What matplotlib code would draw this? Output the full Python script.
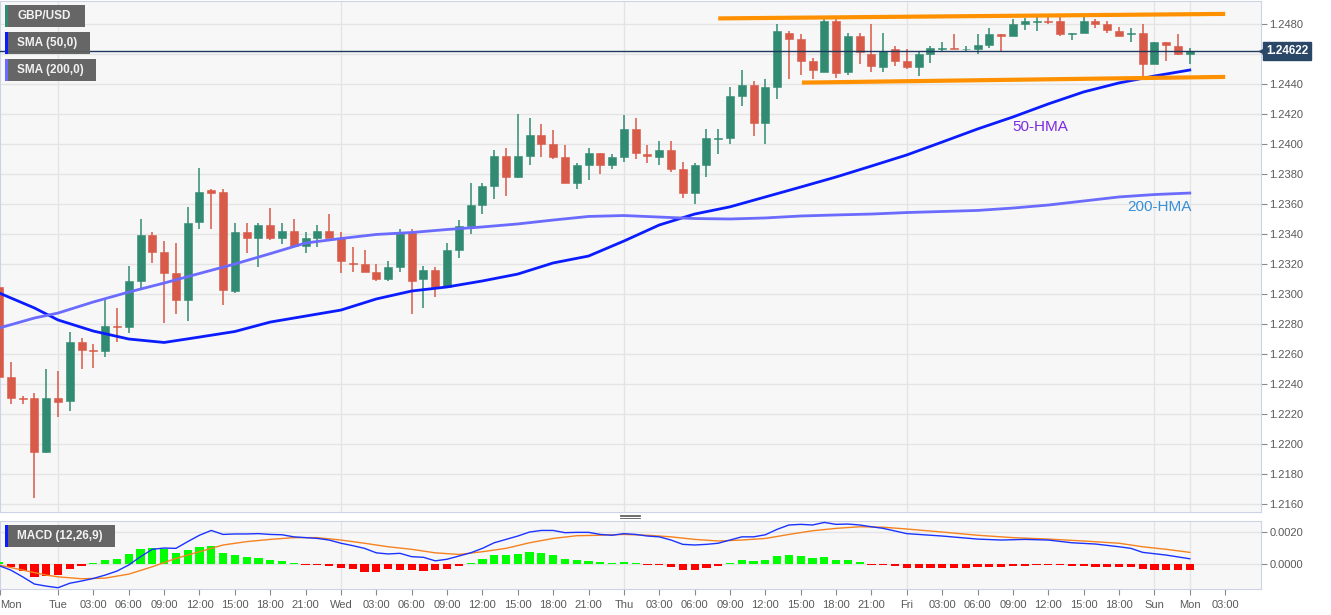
import matplotlib
matplotlib.use("Agg")
import matplotlib.pyplot as plt
import matplotlib.transforms as mtransforms
from matplotlib.patches import Rectangle
from matplotlib.lines import Line2D

plt.rcParams["font.family"] = ["Liberation Sans", "DejaVu Sans"]

W, H = 1331, 615

# hourly bars, index 0 = Tue 00:00
bar_index = list(range(-5, 97))
opens = [1.2305, 1.2245, 1.2231, 1.2231, 1.2195, 1.2231, 1.2229, 1.2268, 1.2263, 1.2262,
         1.2279, 1.2278, 1.2309, 1.2339, 1.2328, 1.2314, 1.2296, 1.2348, 1.2369, 1.2368,
         1.2302, 1.2341, 1.2337, 1.2346, 1.2337, 1.2342, 1.2332, 1.2337, 1.2342, 1.2337,
         1.2321, 1.2320, 1.2315, 1.2310, 1.2318, 1.2341, 1.2310, 1.2316, 1.2305, 1.2329,
         1.2345, 1.2359, 1.2372, 1.2392, 1.2378, 1.2392, 1.2406, 1.2400, 1.2391, 1.2374,
         1.2386, 1.2394, 1.2386, 1.2391, 1.2410, 1.2393, 1.2391, 1.2396, 1.2383, 1.2367,
         1.2386, 1.2403, 1.2404, 1.2432, 1.2439, 1.2414, 1.2438, 1.2474, 1.2470, 1.2455,
         1.2448, 1.2482, 1.2448, 1.2472, 1.2460, 1.2451, 1.2463, 1.2455, 1.2451, 1.2460,
         1.2463, 1.2464, 1.2463, 1.2463, 1.2466, 1.2473, 1.2472, 1.2480, 1.2481, 1.2482,
         1.2482, 1.2473, 1.2474, 1.2482, 1.2480, 1.2475, 1.2473, 1.2474, 1.2453, 1.2468,
         1.2465, 1.2460]
highs = [1.2308, 1.2255, 1.2232, 1.2234, 1.2250, 1.2249, 1.2275, 1.2271, 1.2267, 1.2297,
         1.2291, 1.2319, 1.2350, 1.2341, 1.2335, 1.2334, 1.2358, 1.2384, 1.2370, 1.2370,
         1.2347, 1.2347, 1.2347, 1.2357, 1.2347, 1.2350, 1.2341, 1.2346, 1.2353, 1.2341,
         1.2331, 1.2329, 1.2320, 1.2322, 1.2343, 1.2343, 1.2319, 1.2318, 1.2334, 1.2349,
         1.2374, 1.2374, 1.2396, 1.2397, 1.2420, 1.2417, 1.2413, 1.2409, 1.2399, 1.2387,
         1.2397, 1.2394, 1.2393, 1.2419, 1.2417, 1.2399, 1.2402, 1.2402, 1.2388, 1.2387,
         1.2410, 1.2410, 1.2438, 1.2449, 1.2442, 1.2443, 1.2480, 1.2475, 1.2473, 1.2457,
         1.2483, 1.2483, 1.2474, 1.2474, 1.2480, 1.2474, 1.2465, 1.2463, 1.2461, 1.2465,
         1.2468, 1.2473, 1.2465, 1.2473, 1.2477, 1.2473, 1.2483, 1.2484, 1.2486, 1.2486,
         1.2485, 1.2474, 1.2485, 1.2483, 1.2482, 1.2478, 1.2477, 1.2480, 1.2468, 1.2468,
         1.2473, 1.2464]
lows = [1.2215, 1.2227, 1.2227, 1.2164, 1.2194, 1.2218, 1.2222, 1.2250, 1.2251, 1.2258,
        1.2268, 1.2274, 1.2304, 1.2321, 1.2281, 1.2287, 1.2282, 1.2343, 1.2343, 1.2293,
        1.2301, 1.2327, 1.2318, 1.2336, 1.2333, 1.2332, 1.2327, 1.2331, 1.2337, 1.2314,
        1.2315, 1.2315, 1.2309, 1.2309, 1.2315, 1.2287, 1.2291, 1.2298, 1.2304, 1.2324,
        1.2340, 1.2353, 1.2363, 1.2365, 1.2377, 1.2386, 1.2391, 1.2390, 1.2374, 1.2370,
        1.2376, 1.2380, 1.2383, 1.2388, 1.2390, 1.2387, 1.2386, 1.2381, 1.2364, 1.2360,
        1.2378, 1.2393, 1.2400, 1.2425, 1.2405, 1.2400, 1.2430, 1.2443, 1.2446, 1.2443,
        1.2448, 1.2444, 1.2446, 1.2453, 1.2448, 1.2448, 1.2452, 1.2450, 1.2445, 1.2454,
        1.2462, 1.2463, 1.2461, 1.2460, 1.2464, 1.2461, 1.2472, 1.2476, 1.2475, 1.2480,
        1.2472, 1.2469, 1.2474, 1.2477, 1.2474, 1.2472, 1.2468, 1.2445, 1.2453, 1.2455,
        1.2459, 1.2453]
closes = [1.2245, 1.2231, 1.2230, 1.2195, 1.2231, 1.2228, 1.2268, 1.2263, 1.2262, 1.2279,
          1.2278, 1.2309, 1.2339, 1.2328, 1.2314, 1.2296, 1.2347, 1.2368, 1.2367, 1.2303,
          1.2341, 1.2337, 1.2346, 1.2337, 1.2342, 1.2332, 1.2337, 1.2342, 1.2337, 1.2322,
          1.2320, 1.2315, 1.2310, 1.2318, 1.2341, 1.2309, 1.2316, 1.2305, 1.2329, 1.2345,
          1.2359, 1.2372, 1.2392, 1.2378, 1.2392, 1.2406, 1.2400, 1.2391, 1.2374, 1.2386,
          1.2394, 1.2386, 1.2391, 1.2410, 1.2394, 1.2392, 1.2396, 1.2383, 1.2367, 1.2386,
          1.2404, 1.2404, 1.2432, 1.2439, 1.2414, 1.2438, 1.2475, 1.2470, 1.2455, 1.2449,
          1.2482, 1.2447, 1.2472, 1.2461, 1.2452, 1.2462, 1.2455, 1.2451, 1.2460, 1.2464,
          1.2464, 1.2463, 1.2463, 1.2466, 1.2473, 1.2472, 1.2480, 1.2482, 1.2482, 1.2481,
          1.2473, 1.2474, 1.2482, 1.2480, 1.2476, 1.2472, 1.2474, 1.2453, 1.2468, 1.2466,
          1.2460, 1.24622]

hma_index = [-5, -2] + list(range(0, 97, 3))
hma50 = [1.23007, 1.22907, 1.22827, 1.22753, 1.22700, 1.22677, 1.22713, 1.22750, 1.22813,
         1.22853, 1.22893, 1.22967, 1.23020, 1.23047, 1.23087, 1.23133, 1.23207, 1.23253,
         1.23353, 1.23460, 1.23533, 1.23581, 1.23647, 1.23713, 1.23780, 1.23853, 1.23927,
         1.24013, 1.24100, 1.24180, 1.24267, 1.24347, 1.24407, 1.24453, 1.24493]
hma200 = [1.22773, 1.22840, 1.22873, 1.22947, 1.23013, 1.23073, 1.23137, 1.23200, 1.23269,
          1.23340, 1.23370, 1.23397, 1.23410, 1.23430, 1.23447, 1.23467, 1.23493, 1.23517,
          1.23523, 1.23513, 1.23503, 1.23500, 1.23507, 1.23520, 1.23527, 1.23533, 1.23543,
          1.23550, 1.23557, 1.23573, 1.23593, 1.23620, 1.23647, 1.23663, 1.23673]

macd_index = list(range(-5, 71)) + [72, 75, 78, 80, 82, 84, 86, 88, 90, 91, 92, 94, 96]
macd_line = [-0.0001, -0.00038, -0.0008, -0.00125, -0.00138, -0.00148, -0.0012, -0.00106,
             -0.0009, -0.00069, -0.00044, -0.00006, 0.00046, 0.00092, 0.0010, 0.00098,
             0.0014, 0.0018, 0.0021, 0.00185, 0.00188, 0.00188, 0.0019, 0.00185, 0.00183,
             0.0017, 0.00165, 0.0016, 0.0015, 0.0013, 0.00115, 0.00098, 0.0007, 0.00063,
             0.00067, 0.00046, 0.00042, 0.0002, 0.0003, 0.0005, 0.0007, 0.00098, 0.00133,
             0.00154, 0.00175, 0.0020, 0.0021, 0.0021, 0.00196, 0.00198, 0.00198, 0.00185,
             0.0018, 0.0019, 0.00185, 0.00175, 0.0017, 0.0015, 0.00123, 0.00119, 0.00123,
             0.0013, 0.0015, 0.0017, 0.0017, 0.00183, 0.00217, 0.00244, 0.00248, 0.00244,
             0.0026, 0.00248, 0.0025, 0.00244, 0.00233, 0.00223,
             0.0019, 0.00175, 0.00156, 0.0015, 0.00154, 0.0015, 0.00133, 0.00125, 0.00108,
             0.00098, 0.00073, 0.00056, 0.00033]
signal_index = [-5, -3, -1] + list(range(0, 71, 2)) + [72, 75, 78, 81, 84, 87, 90, 92, 94, 96]
signal_line = [-0.00006, -0.00038, -0.00069,
               -0.0008, -0.00092, -0.00088, -0.00063, -0.00017, 0.00035, 0.00077, 0.00119,
               0.0014, 0.00154, 0.00165, 0.00165, 0.0015, 0.0013, 0.00108, 0.00092, 0.0007,
               0.0006, 0.00077, 0.00098, 0.00133, 0.0016, 0.00177, 0.0018, 0.00185, 0.0018,
               0.0017, 0.00154, 0.00144, 0.0015, 0.0016, 0.00185, 0.00208, 0.00223, 0.00233,
               0.0023,
               0.00219, 0.002, 0.0018, 0.00165, 0.00156, 0.00144, 0.0013, 0.00108, 0.00092,
               0.00073]
macd_hist = [0.0001, -0.00017, -0.00044, -0.00079, -0.00075, -0.00069, -0.00033, -0.0001,
             0.00004, 0.00023, 0.00033, 0.0006, 0.00092, 0.0010, 0.00094, 0.0007, 0.00088,
             0.00104, 0.00112, 0.00067, 0.00056, 0.00044, 0.00038, 0.00025, 0.00019, 0.00008,
             -0.00004, -0.00004, -0.0001, -0.00025, -0.00033, -0.00048, -0.00048, -0.00031,
             -0.0004, -0.0004, -0.00046, -0.0004, -0.00033, -0.00012, 0.00008, 0.00029,
             0.00054, 0.00056, 0.00063, 0.00073, 0.00069, 0.00056, 0.00031, 0.00023, 0.00019,
             0.0001, 0.00008, 0.00012, 0.00006, -0.00004, -0.00008, -0.00021, -0.0004,
             -0.00038, -0.00023, -0.00015, 0.00006, 0.00023, 0.00017, 0.00023, 0.0005,
             0.00058, 0.0005, 0.00035, 0.00042, 0.00023, 0.00023, 0.00012, -0.00004, -0.00008,
             -0.00012, -0.00023, -0.00023, -0.00023, -0.00023, -0.00023, -0.00023, -0.00021,
             -0.0002, -0.00019, -0.00012, -0.0001, -0.00008, -0.00004, -0.00006, -0.00012,
             -0.00015, -0.00017, -0.00019, -0.00021, -0.00021, -0.00033, -0.00035, -0.00035,
             -0.00035, -0.00035]

upper_x = [56, 99]
upper_y = [1.24837, 1.24867]
lower_x = [63.1, 99]
lower_y = [1.24409, 1.24447]
last_price = 1.24622

price_ticks = [1.2160 + 0.002 * k for k in range(17)]
macd_ticks = [0.0, 0.002]
time_ticks = [-4.9, 0, 3, 6, 9, 12, 15, 18, 21, 24, 27, 30, 33, 36, 39, 42, 45, 48, 51, 54,
              57, 60, 63, 66, 69, 72, 75, 78, 81, 84, 87, 90, 93, 96, 99]
time_labels = ["Mon", "Tue", "03:00", "06:00", "09:00", "12:00", "15:00", "18:00", "21:00",
               "Wed", "03:00", "06:00", "09:00", "12:00", "15:00", "18:00", "21:00",
               "Thu", "03:00", "06:00", "09:00", "12:00", "15:00", "18:00", "21:00",
               "Fri", "03:00", "06:00", "09:00", "12:00", "15:00", "18:00", "Sun", "Mon", "03:00"]
day_lines = [0, 24, 48, 72, 93, 96]

UP = "#318b73"
DOWN = "#d85a48"
BG = "#f7f7f7"
GRID = "#e4e4e4"
SPINE = "#cdd3e6"
TXT = "#5a5a5a"

fig = plt.figure(figsize=(W / 100, H / 100), dpi=100)
ax = fig.add_axes([0.0, 1 - 512 / H, 1261 / W, 511 / H])
axm = fig.add_axes([0.0, 1 - 589 / H, 1261 / W, 68 / H], sharex=ax)

for a in (ax, axm):
    a.set_facecolor(BG)
    for s in a.spines.values():
        s.set_color(SPINE)
    a.yaxis.tick_right()
    a.tick_params(axis="y", colors="#8a8a8a", labelcolor=TXT, labelsize=8, length=4, pad=2)
    for d in day_lines:
        a.axvline(d, color=GRID, lw=1, zorder=0)

# candles
for i, o, h, l, c in zip(bar_index, opens, highs, lows, closes):
    col = UP if c >= o else DOWN
    ax.vlines(i, l, h, color=col, lw=1.1, zorder=3)
    ax.bar(i, max(abs(c - o), 0.00004), bottom=min(o, c), width=0.68, color=col,
           edgecolor=col, lw=0.4, zorder=4)

ax.plot(hma_index, hma50, color="#0b1cff", lw=2, zorder=5)
ax.plot(hma_index, hma200, color="#6b6bff", lw=2, zorder=5)
ax.plot(upper_x, upper_y, color="#ff9100", lw=3, solid_capstyle="butt", zorder=6)
ax.plot(lower_x, lower_y, color="#ff9100", lw=3, solid_capstyle="butt", zorder=6)
ax.axhline(last_price, color="#1e3a5f", lw=1, zorder=6)

ax.text(83.3, 1.2411, "50-HMA", color="#7b2be0", fontsize=11, ha="center", va="center")
ax.text(93.4, 1.2358, "200-HMA", color="#3a8fd6", fontsize=11, ha="center", va="center")

ax.set_xlim(-4.92, 102.04)
ax.set_ylim(1.21547, 1.24953)
ax.set_yticks(price_ticks)
# the 1.2460 label sits under the last-price box
ax.set_yticklabels(["" if abs(t - 1.246) < 1e-6 else f"{t:.4f}" for t in price_ticks])
ax.grid(axis="y", color=GRID, lw=1)
ax.set_axisbelow(True)
ax.tick_params(axis="x", bottom=False, labelbottom=False)

trans = mtransforms.blended_transform_factory(ax.transAxes, ax.transData)
ax.text(1.004, last_price, "1.24622", transform=trans, ha="left", va="center",
        color="white", fontsize=8.5, fontweight="bold", zorder=20, clip_on=False,
        bbox=dict(boxstyle="square,pad=0.25", fc="#2b4768", ec="#2b4768"))
ax.plot([1.0005], [last_price], marker="<", color="#2b4768", ms=5, transform=trans,
        clip_on=False, zorder=20)

# MACD panel
hcols = ["#00ff00" if v >= 0 else "#ff0000" for v in macd_hist]
axm.bar(bar_index, macd_hist, width=0.7, color=hcols, zorder=3)
axm.plot(signal_index, signal_line, color="#f5821f", lw=1, zorder=4)
axm.plot(macd_index, macd_line, color="#1a33ff", lw=1, zorder=5)
axm.set_ylim(-0.00156, 0.00269)
axm.set_yticks(macd_ticks)
axm.set_yticklabels([f"{t:.4f}" for t in macd_ticks])
axm.grid(axis="y", color=GRID, lw=1)
axm.set_axisbelow(True)
axm.set_xticks(time_ticks)
axm.set_xticklabels(time_labels)
axm.tick_params(axis="x", colors="#8a8a8a", labelcolor=TXT, labelsize=8, length=4, pad=4)
axm.get_xticklabels()[0].set_horizontalalignment("left")


# legend boxes (pixel coords)
def box(x0, y0, x1, y1, stripe, label):
    fig.patches.append(Rectangle((x0 / W, 1 - y1 / H), (x1 - x0) / W, (y1 - y0) / H,
                                 transform=fig.transFigure, fc="#5e5e5e", ec="none",
                                 alpha=0.95, zorder=10))
    fig.patches.append(Rectangle((x0 / W, 1 - y1 / H), 3 / W, (y1 - y0) / H,
                                 transform=fig.transFigure, fc=stripe, ec="none", zorder=11))
    fig.text((x0 + 12) / W, 1 - (y0 + y1) / 2 / H, label, color="#f2f2f2", fontsize=8.5,
             fontweight="bold", va="center", ha="left", zorder=12)


box(5, 5, 85, 27, UP, "GBP/USD")
box(5, 32, 90, 54, "#0b1cff", "SMA (50,0)")
box(5, 59, 96, 81, "#6b6bff", "SMA (200,0)")
box(5, 525, 115, 547, "#0b1cff", "MACD (12,26,9)")

# panel separator handle
for yy in (514.8, 516.2, 517.6):
    fig.lines.append(Line2D([620 / W, 640 / W], [1 - yy / H, 1 - yy / H],
                            transform=fig.transFigure, color="#555555", lw=0.6))

fig.savefig("out.png", dpi=100, facecolor="white")
